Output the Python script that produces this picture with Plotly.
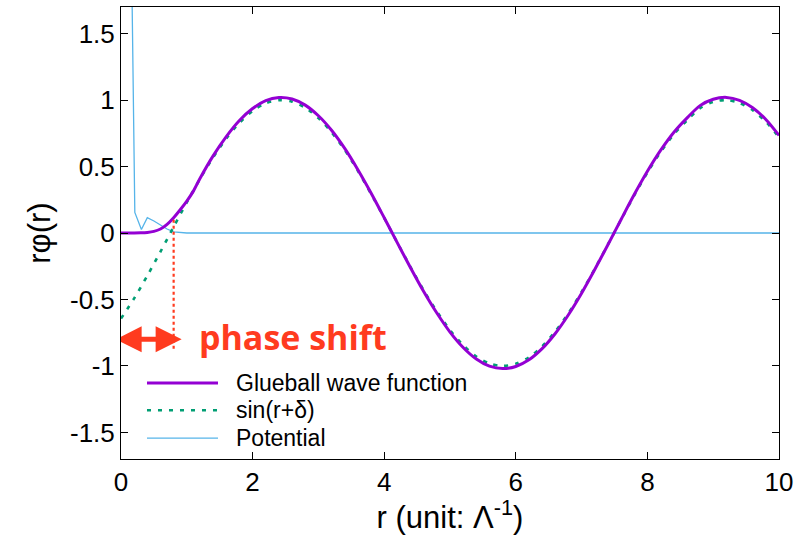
import plotly.graph_objects as go

# ---- data ----
r_glue = [0.0, 0.2, 0.3, 0.4, 0.5, 0.6, 0.7, 0.8, 0.9, 1.0, 1.1, 1.2, 1.4, 1.6, 1.8, 2.0,
          2.2, 2.4, 2.6, 2.8, 3.0, 3.2, 3.4, 3.6, 3.8, 4.0, 4.2, 4.4, 4.6, 4.8, 5.0,
          5.2, 5.4, 5.6, 5.8, 6.0, 6.2, 6.4, 6.6, 6.8, 7.0, 7.2, 7.4, 7.6, 7.8, 8.0,
          8.2, 8.4, 8.6, 8.8, 9.0, 9.2, 9.4, 9.6, 9.8, 10.0]
glueball = [0.0, 0.0, 0.001, 0.004, 0.012, 0.03, 0.065, 0.115, 0.175, 0.24, 0.315, 0.41,
            0.58, 0.725, 0.846, 0.936, 0.996, 1.019, 1.008, 0.962, 0.882, 0.773, 0.636,
            0.476, 0.301, 0.115, -0.074, -0.261, -0.44, -0.602, -0.745, -0.861, -0.948,
            -1.002, -1.02, -1.004, -0.954, -0.87, -0.756, -0.615, -0.453, -0.275, -0.088,
            0.102, 0.289, 0.464, 0.621, 0.756, 0.864, 0.958, 1.006, 1.02, 0.998, 0.942,
            0.854, 0.734]

r_fit = [0.0, 0.2, 0.4, 0.6, 0.8, 1.0, 1.2, 1.4, 1.6, 1.8, 2.0, 2.2, 2.4, 2.6, 2.8, 3.0,
         3.2, 3.4, 3.6, 3.8, 4.0, 4.2, 4.4, 4.6, 4.8, 5.0, 5.2, 5.4, 5.6, 5.8, 6.0, 6.2,
         6.4, 6.6, 6.8, 7.0, 7.2, 7.4, 7.6, 7.8, 8.0, 8.2, 8.4, 8.6, 8.8, 9.0, 9.2, 9.4,
         9.6, 9.8, 10.0]
sin_fit = [-0.644, -0.492, -0.321, -0.141, 0.046, 0.23, 0.406, 0.569, 0.711, 0.829, 0.918,
           0.976, 0.999, 0.988, 0.943, 0.865, 0.758, 0.624, 0.467, 0.295, 0.113, -0.073,
           -0.256, -0.431, -0.59, -0.73, -0.844, -0.929, -0.982, -1.0, -0.984, -0.935,
           -0.853, -0.741, -0.603, -0.444, -0.27, -0.086, 0.1, 0.283, 0.455, 0.609, 0.741,
           0.847, 0.939, 0.986, 1.0, 0.978, 0.924, 0.837, 0.72]

r_pot = [0.11, 0.21, 0.31, 0.40, 0.5, 0.6, 0.7, 0.8, 0.9, 1.0, 10.0]
potential = [4.0, 0.155, 0.026, 0.115, 0.09, 0.06, 0.03, 0.008, 0.002, 0.0, 0.0]

phase_shift = 0.80      # where sin(r+delta) crosses zero
arrow_y = -0.80
marker_top, marker_bottom = 0.10, -0.87

x_ticks = [0, 2, 4, 6, 8, 10]
y_ticks = [-1.5, -1.0, -0.5, 0.0, 0.5, 1.0, 1.5]
y_tick_labels = ["-1.5", "-1", "-0.5", "0", "0.5", "1", "1.5"]

names = ["Glueball wave function", "sin(r+δ)", "Potential"]

PURPLE = "#9400D3"
GREEN = "#009E73"
BLUE = "#56B4E9"
RED = "#FF3B1F"
FONT = "Liberation Sans, Arial, sans-serif"

fig = go.Figure()
fig.add_trace(go.Scatter(x=r_pot, y=potential, mode="lines",
                         line=dict(color=BLUE, width=1.3), name=names[2], showlegend=False))
fig.add_trace(go.Scatter(x=r_fit, y=sin_fit, mode="lines",
                         line=dict(color=GREEN, width=2.6, dash="4px,7px", shape="spline", smoothing=0.8),
                         name=names[1], showlegend=False))
fig.add_trace(go.Scatter(x=r_glue, y=glueball, mode="lines",
                         line=dict(color=PURPLE, width=3, shape="spline", smoothing=0.8),
                         name=names[0], showlegend=False))

# phase-shift marker
fig.add_shape(type="line", xref="x", yref="y", x0=phase_shift, x1=phase_shift,
              y0=marker_top, y1=marker_bottom, line=dict(color=RED, width=2.2, dash="dot"))
# double-headed arrow (pixel geometry around data anchor)
fig.add_shape(type="path", xref="x", yref="y", xsizemode="pixel", ysizemode="pixel",
              xanchor=phase_shift / 2 + 0.02, yanchor=arrow_y,
              path="M -33 0 L -7 13 L -7 2.5 L 7 2.5 L 7 13 L 33 0 L 7 -13 L 7 -2.5 L -7 -2.5 L -7 -13 Z",
              fillcolor=RED, line=dict(color=RED, width=0))
fig.add_annotation(x=2.61, y=arrow_y + 0.02, xref="x", yref="y", text="<b>phase shift</b>",
                   showarrow=False, font=dict(family="Open Sans, sans-serif", size=34, color=RED))

# legend drawn manually
leg_y = [0.168, 0.108, 0.046]
leg_styles = [dict(color=PURPLE, width=3), dict(color=GREEN, width=2.6, dash="4px,7px"),
              dict(color=BLUE, width=1.3)]
for yy, st, nm in zip(leg_y, leg_styles, names):
    fig.add_shape(type="line", xref="paper", yref="paper", x0=0.0395, x1=0.1474, y0=yy, y1=yy, line=st)
    fig.add_annotation(x=0.171, y=yy, xref="paper", yref="paper", text=nm, showarrow=False,
                       xanchor="left", yanchor="middle", font=dict(family=FONT, size=23, color="black"))

axis_common = dict(showline=True, linecolor="black", linewidth=1, mirror="allticks",
                   ticks="inside", ticklen=7, tickcolor="black", showgrid=False, zeroline=False,
                   tickfont=dict(family=FONT, size=26, color="black"))
fig.update_xaxes(range=[0, 10], tickvals=x_ticks, ticktext=[str(v) for v in x_ticks],
                 title=dict(text="r (unit: Λ<sup>-1</sup>)", font=dict(family=FONT, size=31, color="black"),
                            standoff=8),
                 **axis_common)
fig.update_yaxes(range=[-1.7, 1.7], tickvals=y_ticks, ticktext=y_tick_labels,
                 title=dict(text="rφ(r)", font=dict(family=FONT, size=31, color="black"), standoff=10),
                 **axis_common)
fig.update_layout(width=808, height=535, margin=dict(l=121, r=29, t=7, b=76),
                  plot_bgcolor="white", paper_bgcolor="white", showlegend=False)
fig.write_html("out.html")
